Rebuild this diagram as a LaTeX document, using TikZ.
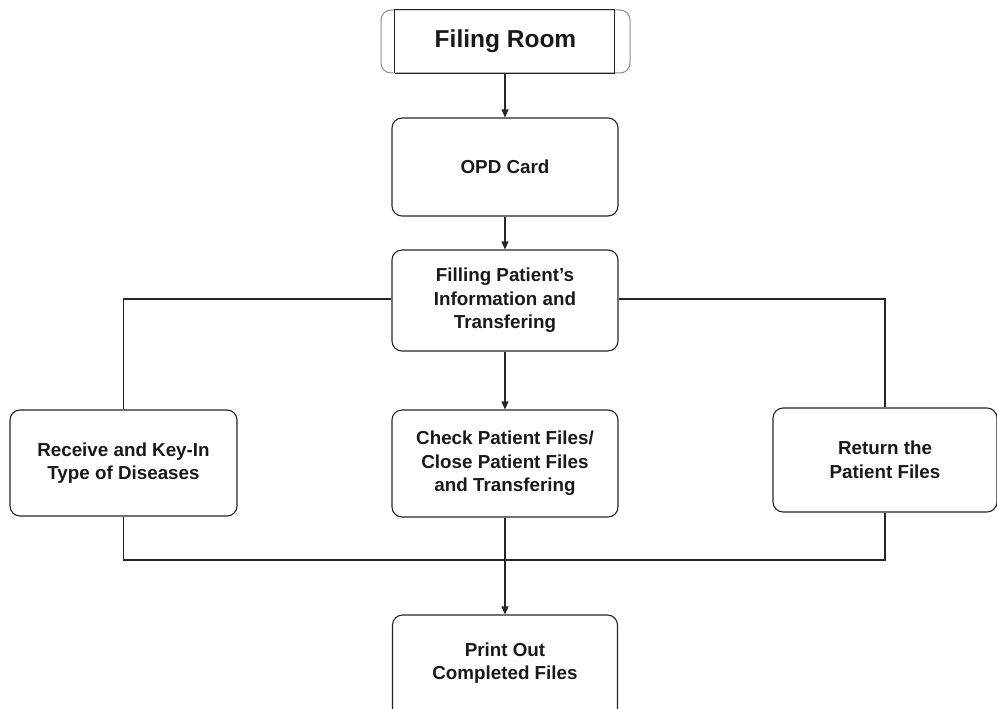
\documentclass[tikz,border=0pt]{standalone}
\usepackage{fontspec}
\setmainfont{Liberation Sans}
\usetikzlibrary{arrows.meta,calc}
\begin{document}
\begin{tikzpicture}[x=1pt,y=-1pt,
  every node/.style={font=\bfseries\fontsize{18.8}{23.5}\selectfont, text=black!90, align=center},
  procbox/.style={draw=black!85, line width=1.1pt, rounded corners=10pt, inner sep=0pt},
  link/.style={draw=black!85, line width=1.1pt},
  flow/.style={link, -{Triangle[length=8pt,width=7pt]}}]
  \useasboundingbox (0,0) rectangle (997,709);
  \clip (0,0) rectangle (997,709);

  % predefined-process header
  \node[draw=black!45, line width=1pt, rounded corners=10pt, minimum width=249pt, minimum height=63pt,
        font=\bfseries\fontsize{24.5}{28}\selectfont] (filing) at (505.5,41.5) {Filing Room};
  \draw[link] ($(filing.north west)+(14,0)$) coordinate (fa) -- ($(filing.south west)+(14,0)$) coordinate (fb);
  \draw[link] ($(filing.north east)+(-16,0)$) coordinate (fc) -- ($(filing.south east)+(-16,0)$) coordinate (fd);
  \draw[link] (fa) -- (fc);
  \draw[link] (fb) -- (fd);

  % process steps
  \node[procbox, minimum width=226pt, minimum height=98pt]  (opd)   at (505,167)   {OPD Card};
  \node[procbox, minimum width=226pt, minimum height=101pt] (fill)  at (505,300.5) {Filling Patient's\\Information and\\Transfering};
  \node[procbox, minimum width=227pt, minimum height=106pt] (recv)  at (123.5,463) {Receive and Key-In\\Type of Diseases};
  \node[procbox, minimum width=226pt, minimum height=107pt] (check) at (505,463.5) {Check Patient Files/\\Close Patient Files\\and Transfering};
  \node[procbox, minimum width=224pt, minimum height=104pt] (ret)   at (885,460)   {Return the\\Patient Files};
  \node[procbox, minimum width=225pt, minimum height=110pt] (print) at (505,670) {};
  \node at (505,663) {Print Out\\Completed Files};

  % connectors
  \coordinate (bus) at (505,560);
  \draw[flow] (filing.south -| opd.north) -- (opd.north);
  \draw[flow] (opd.south) -- (fill.north);
  \draw[flow] (fill.south) -- (check.north);
  \draw[link] (fill.west |- 0,299) -| (recv.north);
  \draw[link] (fill.east |- 0,299) -| (ret.north);
  \draw[link] (recv.south) |- (bus) -| (ret.south);
  \draw[link] (check.south) -- (bus);
  \draw[flow] (bus) -- (print.north);
\end{tikzpicture}
\end{document}
